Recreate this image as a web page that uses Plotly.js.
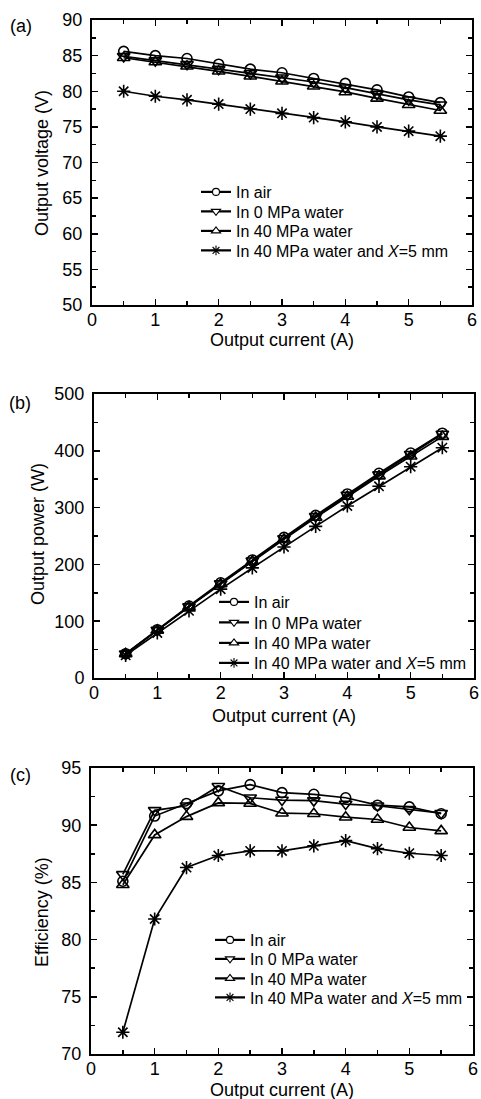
<!DOCTYPE html>
<html>
<head>
<meta charset="utf-8">
<script src="https://cdn.plot.ly/plotly-3.0.1.min.js"></script>
<style>html,body{margin:0;padding:0;background:#fff;}#chart{width:481px;height:1099px;}</style>
</head>
<body>
<div id="chart"></div>
<script>
// ---- data ----
const current = [0.5, 1, 1.5, 2, 2.5, 3, 3.5, 4, 4.5, 5, 5.5];
const seriesNames = ["In air", "In 0 MPa water", "In 40 MPa water", "In 40 MPa water and <i>X</i>=5 mm"];

// (a) output voltage (V)
const voltAir   = [85.6, 85.0, 84.6, 83.8, 83.1, 82.6, 81.8, 81.1, 80.2, 79.2, 78.4];
const volt0MPa  = [84.9, 84.3, 83.8, 83.1, 82.5, 81.9, 81.3, 80.5, 79.6, 78.8, 78.1];
const volt40MPa = [84.7, 84.1, 83.5, 82.8, 82.1, 81.4, 80.7, 79.9, 79.0, 78.1, 77.3];
const volt40X5  = [80.0, 79.3, 78.8, 78.2, 77.5, 76.9, 76.3, 75.7, 75.0, 74.4, 73.7];

// (b) output power (W)
const powAir   = [42.8, 85.0, 126.8, 167.6, 207.8, 247.5, 286.3, 324.0, 360.5, 396.0, 431.0];
const pow0MPa  = [42.5, 84.3, 125.7, 166.2, 206.3, 245.7, 284.6, 322.0, 358.0, 394.0, 429.6];
const pow40MPa = [42.4, 84.1, 125.3, 165.6, 205.3, 244.2, 282.5, 319.6, 355.5, 390.5, 425.0];
const pow40X5  = [40.0, 79.3, 118.2, 156.4, 193.8, 230.7, 267.0, 302.8, 337.5, 372.0, 405.4];

// (c) efficiency (%)
const effAir   = [85.1, 90.8, 91.9, 93.0, 93.55, 92.85, 92.7, 92.4, 91.75, 91.6, 91.0];
const eff0MPa  = [85.7, 91.3, 91.7, 93.4, 92.4, 92.2, 92.15, 91.85, 91.7, 91.4, 91.05];
const eff40MPa = [84.8, 89.15, 90.75, 91.95, 91.9, 91.05, 91.0, 90.7, 90.5, 89.8, 89.5];
const eff40X5  = [71.9, 81.8, 86.3, 87.35, 87.75, 87.75, 88.2, 88.65, 87.95, 87.55, 87.35];

// ---- styling ----
const FONT = "Liberation Sans, Arial, Helvetica, sans-serif";
const W = 481, H = 1099;
const symbols = ["circle-open", "triangle-down-open", "triangle-up-open", "asterisk-open"];
const legSymbols = ["circle", "triangle-down", "triangle-up", "asterisk-open"];
const legColors = ["#fff", "#fff", "#fff", "#000"];
const plotSizes = [10, 11, 11, 11];
const legSizes = [7, 8, 8, 8];

function px(x) { return x / W; }
function py(y) { return 1 - y / H; }

// legend placement per panel: item origin x and row centre y (pixels)
const panels = [
  {ys: [voltAir, volt0MPa, volt40MPa, volt40X5], xa: "x", ya: "y", lx: 196, rows: [192, 211.5, 231, 250.5]},
  {ys: [powAir, pow0MPa, pow40MPa, pow40X5], xa: "x2", ya: "y2", lx: 214, rows: [602, 622.5, 643, 663]},
  {ys: [effAir, eff0MPa, eff40MPa, eff40X5], xa: "x3", ya: "y3", lx: 210, rows: [940, 959, 978.5, 997.5]}
];

const traces = [];
const layout = {
  width: W, height: H, margin: {l: 0, r: 0, t: 0, b: 0},
  paper_bgcolor: "#fff", plot_bgcolor: "#fff", showlegend: true
};

let legIdx = 0;
panels.forEach(p => {
  p.ys.forEach((yv, i) => {
    traces.push({
      x: current, y: yv, xaxis: p.xa, yaxis: p.ya, type: "scatter", mode: "lines+markers",
      showlegend: false, cliponaxis: false,
      line: {color: "#000", width: 1.7},
      marker: {symbol: symbols[i], size: plotSizes[i], color: "#000",
               line: {color: "#000", width: 1.6}}
    });
  });
  p.ys.forEach((yv, i) => {
    legIdx += 1;
    const lname = legIdx === 1 ? "legend" : "legend" + legIdx;
    layout[lname] = {
      x: px(p.lx), y: py(p.rows[i]), xanchor: "left", yanchor: "middle",
      bgcolor: "rgba(0,0,0,0)", borderwidth: 0,
      font: {family: FONT, size: 16, color: "#000"},
      itemclick: false, itemdoubleclick: false
    };
    traces.push({
      x: [null], y: [null], xaxis: p.xa, yaxis: p.ya, type: "scatter", mode: "lines+markers",
      name: seriesNames[i], legend: lname, showlegend: true,
      line: {color: "#000", width: 2.2},
      marker: {symbol: legSymbols[i], size: legSizes[i], color: legColors[i],
               line: {color: "#000", width: 1.1}}
    });
  });
});

function xAxis(dom, anchor) {
  return {
    domain: dom, anchor: anchor, range: [0, 6], tickmode: "linear", tick0: 0, dtick: 1,
    ticks: "inside", ticklen: 6, tickwidth: 1.5, tickcolor: "#000",
    minor: {dtick: 0.5, ticks: "inside", ticklen: 4, tickwidth: 1.5, tickcolor: "#000"},
    showline: true, linewidth: 2, linecolor: "#000", mirror: "ticks",
    showgrid: false, zeroline: false, fixedrange: true,
    tickfont: {family: FONT, size: 18, color: "#000"}, ticklabelstandoff: -3
  };
}
function yAxis(dom, anchor, range, dtick) {
  return {
    domain: dom, anchor: anchor, range: range, tickmode: "linear", tick0: range[0], dtick: dtick,
    ticks: "inside", ticklen: 6, tickwidth: 1.5, tickcolor: "#000",
    minor: {dtick: dtick / 2, ticks: "inside", ticklen: 4, tickwidth: 1.5, tickcolor: "#000"},
    showline: true, linewidth: 2, linecolor: "#000", mirror: "ticks",
    showgrid: false, zeroline: false, fixedrange: true,
    tickfont: {family: FONT, size: 18, color: "#000"}, ticklabelstandoff: 4
  };
}

function ann(text, x, y, angle, size) {
  return {text: text, x: px(x), y: py(y), xref: "paper", yref: "paper", showarrow: false,
          textangle: angle || 0, xanchor: "center", yanchor: "middle",
          font: {family: FONT, size: size || 18, color: "#000"}};
}

Object.assign(layout, {
  xaxis:  xAxis([px(92), px(472)], "y"),
  yaxis:  yAxis([py(305), py(20)], "x", [50, 90], 5),
  xaxis2: xAxis([px(94), px(474)], "y2"),
  yaxis2: yAxis([py(678), py(394)], "x2", [0, 500], 100),
  xaxis3: xAxis([px(91), px(473)], "y3"),
  yaxis3: yAxis([py(1054), py(768)], "x3", [70, 95], 5),
  annotations: [
    ann("(a)", 21, 26), ann("(b)", 20, 403), ann("(c)", 20, 775),
    ann("Output voltage (V)", 42, 163, -90),
    ann("Output power (W)", 38, 534, -90),
    ann("Efficiency (%)", 42, 912, -90),
    ann("Output current (A)", 282, 340),
    ann("Output current (A)", 284, 716),
    ann("Output current (A)", 282, 1090)
  ]
});

Plotly.newPlot("chart", traces, layout, {staticPlot: true, displayModeBar: false});
</script>
</body>
</html>
